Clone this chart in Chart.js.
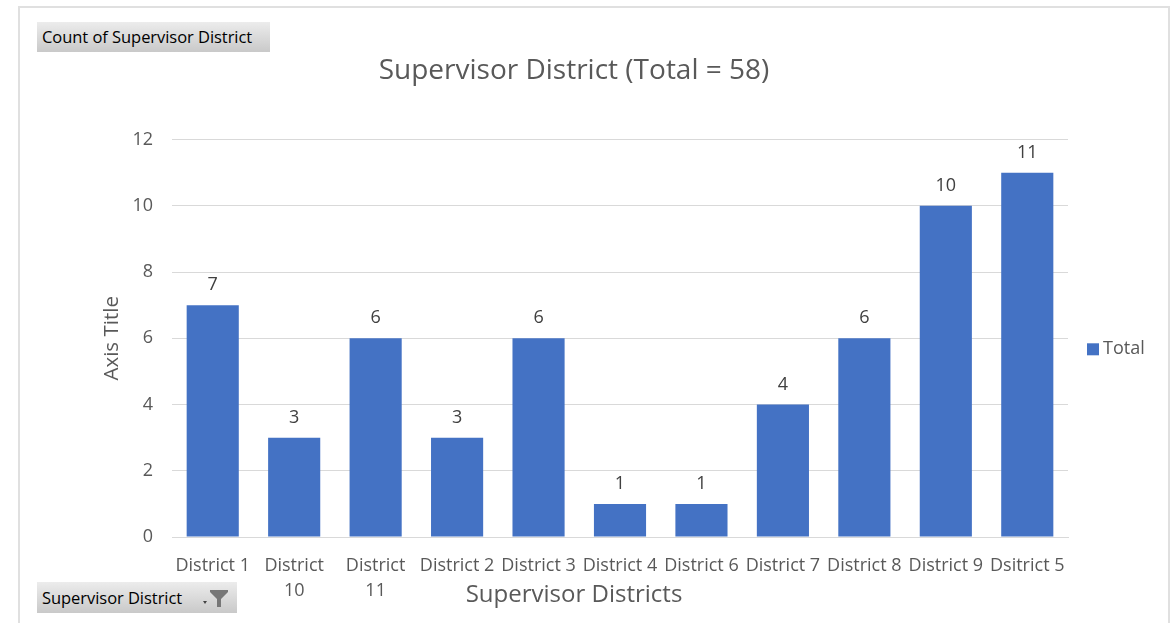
<!DOCTYPE html>
<html>
<head>
<meta charset="utf-8">
<script src="https://cdn.jsdelivr.net/npm/chart.js@4.4.1/dist/chart.umd.min.js"></script>
<style>
  html, body { margin: 0; padding: 0; background: #fff; }
  body { width: 1176px; height: 623px; position: relative; overflow: hidden; }
  .frame { position: absolute; left: 18px; top: 6px; width: 1152px; height: 640px; border: 2px solid #e0e0e0; box-sizing: border-box; }
  #wrap { position: absolute; left: 0; top: 0; width: 1176px; height: 623px; }
  .pivot-btn {
    position: absolute; left: 37px; height: 30px;
    background: linear-gradient(#ececec, #c9c9c9);
    font-family: "Open Sans", sans-serif; font-size: 16.5px; color: #000;
    line-height: 30px; padding-left: 5px; box-sizing: border-box; letter-spacing: -0.05px;
  }
  .pivot-btn svg { position: absolute; right: 6px; top: 6px; }
</style>
</head>
<body>
<div class="frame"></div>
<div id="wrap"><canvas id="districtChart" width="1176" height="623"></canvas></div>
<div class="pivot-btn" style="top:22px; width:233px;">Count of Supervisor District</div>
<div class="pivot-btn" style="top:582px; width:200px; height:31px; line-height:31px;">Supervisor District
  <svg width="30" height="20" viewBox="0 0 30 20">
    <path d="M2 13 L6 13 L4 16 Z" fill="#444"/>
    <path d="M9 2 L27 2 L27 4 L20 11 L20 19 L16 19 L16 11 L9 4 Z" fill="#777"/>
  </svg>
</div>
<script>
const districts = ['District 1', ['District', '10'], ['District', '11'], 'District 2', 'District 3',
  'District 4', 'District 6', 'District 7', 'District 8', 'District 9', 'Dsitrict 5'];
const totals = [7, 3, 6, 3, 6, 1, 1, 4, 6, 10, 11];
const yTicks = [0, 2, 4, 6, 8, 10, 12];

const FONT = '"Open Sans", sans-serif';
const GRID = '#d9d9d9';

// value labels above bars, x-axis title and legend (Excel style)
const extrasPlugin = {
  id: 'extras',
  afterDatasetsDraw(chart) {
    const { ctx, chartArea } = chart;
    const meta = chart.getDatasetMeta(0);
    ctx.save();
    ctx.font = '18px ' + FONT;
    ctx.fillStyle = '#404040';
    ctx.textAlign = 'center';
    ctx.textBaseline = 'middle';
    meta.data.forEach((bar, i) => {
      ctx.fillText(String(totals[i]), bar.x, bar.y - 20);
    });

    // x axis title shares the row with the second line of tick labels
    const tb = chart.titleBlock;
    ctx.font = '24px ' + FONT;
    ctx.fillStyle = '#595959';
    ctx.fillText('Supervisor Districts', (tb.left + tb.right) / 2, 595);

    // legend
    const ds = chart.data.datasets[0];
    const ly = (chartArea.top + chartArea.bottom) / 2 + 11;
    ctx.fillStyle = ds.backgroundColor;
    ctx.fillRect(chartArea.right + 19, ly - 6, 12, 12);
    ctx.fillStyle = '#595959';
    ctx.textAlign = 'left';
    ctx.font = '18px ' + FONT;
    ctx.fillText(ds.label, chartArea.right + 35, ly);
    ctx.restore();
  }
};

new Chart(document.getElementById('districtChart'), {
  type: 'bar',
  data: {
    labels: districts,
    datasets: [{
      label: 'Total',
      data: totals,
      backgroundColor: '#4472c4',
      categoryPercentage: 1,
      barPercentage: 0.64
    }]
  },
  plugins: [extrasPlugin],
  options: {
    responsive: false,
    animation: false,
    layout: { padding: { left: 80, right: 108, top: 0, bottom: 0 } },
    plugins: {
      legend: { display: false },
      tooltip: { enabled: false },
      title: {
        display: true,
        text: 'Supervisor District (Total = 58)',
        color: '#595959',
        font: { family: FONT, size: 28, weight: 'normal', lineHeight: 1.2 },
        padding: { top: 54, bottom: 52 }
      }
    },
    scales: {
      x: {
        grid: { display: false, drawTicks: false },
        border: { color: GRID, width: 1 },
        ticks: {
          color: '#595959', padding: 16, maxRotation: 0, autoSkip: false,
          font: { family: FONT, size: 18, lineHeight: 1.39 }
        },
        afterFit(scale) { scale.height = 86; }
      },
      y: {
        min: 0, max: 12,
        afterBuildTicks(scale) { scale.ticks = yTicks.map(v => ({ value: v })); },
        grid: { color: GRID, drawTicks: false },
        border: { display: false },
        ticks: { color: '#595959', padding: 19, font: { family: FONT, size: 18 } },
        title: {
          display: true, text: 'Axis Title', color: '#595959',
          font: { family: FONT, size: 20.5, lineHeight: 1.2 },
          padding: { top: 20, bottom: 0 }
        },
        afterFit(scale) { scale.width = 92; }
      }
    }
  }
});
</script>
</body>
</html>
